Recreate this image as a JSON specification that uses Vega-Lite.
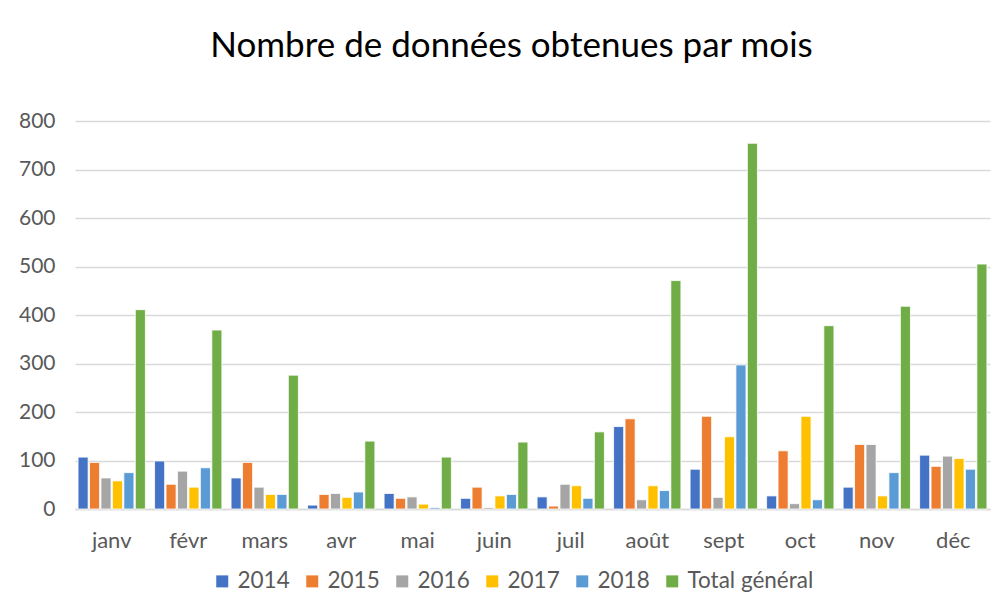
{
  "$schema": "https://vega.github.io/schema/vega-lite/v6.json",
  "width": 915,
  "height": 388,
  "autosize": {"type": "none"},
  "padding": {"left": 75, "top": 121, "right": 12, "bottom": 105},
  "background": "white",
  "title": {
    "text": "Nombre de données obtenues par mois",
    "font": "Lato",
    "fontSize": 35,
    "fontWeight": "normal",
    "color": "#000000",
    "anchor": "middle",
    "frame": "group",
    "dx": -21,
    "baseline": "alphabetic",
    "offset": 18
  },
  "data": {
    "values": [
      {"mois": "janv", "serie": "2014", "valeur": 107},
      {"mois": "janv", "serie": "2015", "valeur": 96},
      {"mois": "janv", "serie": "2016", "valeur": 64},
      {"mois": "janv", "serie": "2017", "valeur": 58},
      {"mois": "janv", "serie": "2018", "valeur": 75},
      {"mois": "janv", "serie": "Total général", "valeur": 411},
      {"mois": "févr", "serie": "2014", "valeur": 99},
      {"mois": "févr", "serie": "2015", "valeur": 51},
      {"mois": "févr", "serie": "2016", "valeur": 78},
      {"mois": "févr", "serie": "2017", "valeur": 45},
      {"mois": "févr", "serie": "2018", "valeur": 85},
      {"mois": "févr", "serie": "Total général", "valeur": 369},
      {"mois": "mars", "serie": "2014", "valeur": 64},
      {"mois": "mars", "serie": "2015", "valeur": 96},
      {"mois": "mars", "serie": "2016", "valeur": 45},
      {"mois": "mars", "serie": "2017", "valeur": 30},
      {"mois": "mars", "serie": "2018", "valeur": 30},
      {"mois": "mars", "serie": "Total général", "valeur": 276},
      {"mois": "avr", "serie": "2014", "valeur": 8},
      {"mois": "avr", "serie": "2015", "valeur": 30},
      {"mois": "avr", "serie": "2016", "valeur": 32},
      {"mois": "avr", "serie": "2017", "valeur": 24},
      {"mois": "avr", "serie": "2018", "valeur": 35},
      {"mois": "avr", "serie": "Total général", "valeur": 140},
      {"mois": "mai", "serie": "2014", "valeur": 32},
      {"mois": "mai", "serie": "2015", "valeur": 22},
      {"mois": "mai", "serie": "2016", "valeur": 25},
      {"mois": "mai", "serie": "2017", "valeur": 10},
      {"mois": "mai", "serie": "2018", "valeur": 3},
      {"mois": "mai", "serie": "Total général", "valeur": 107},
      {"mois": "juin", "serie": "2014", "valeur": 22},
      {"mois": "juin", "serie": "2015", "valeur": 45},
      {"mois": "juin", "serie": "2016", "valeur": 3},
      {"mois": "juin", "serie": "2017", "valeur": 27},
      {"mois": "juin", "serie": "2018", "valeur": 30},
      {"mois": "juin", "serie": "Total général", "valeur": 138},
      {"mois": "juil", "serie": "2014", "valeur": 25},
      {"mois": "juil", "serie": "2015", "valeur": 6},
      {"mois": "juil", "serie": "2016", "valeur": 51},
      {"mois": "juil", "serie": "2017", "valeur": 48},
      {"mois": "juil", "serie": "2018", "valeur": 22},
      {"mois": "juil", "serie": "Total général", "valeur": 159},
      {"mois": "août", "serie": "2014", "valeur": 170},
      {"mois": "août", "serie": "2015", "valeur": 186},
      {"mois": "août", "serie": "2016", "valeur": 19},
      {"mois": "août", "serie": "2017", "valeur": 48},
      {"mois": "août", "serie": "2018", "valeur": 38},
      {"mois": "août", "serie": "Total général", "valeur": 471},
      {"mois": "sept", "serie": "2014", "valeur": 82},
      {"mois": "sept", "serie": "2015", "valeur": 191},
      {"mois": "sept", "serie": "2016", "valeur": 24},
      {"mois": "sept", "serie": "2017", "valeur": 149},
      {"mois": "sept", "serie": "2018", "valeur": 297},
      {"mois": "sept", "serie": "Total général", "valeur": 754},
      {"mois": "oct", "serie": "2014", "valeur": 27},
      {"mois": "oct", "serie": "2015", "valeur": 120},
      {"mois": "oct", "serie": "2016", "valeur": 11},
      {"mois": "oct", "serie": "2017", "valeur": 191},
      {"mois": "oct", "serie": "2018", "valeur": 19},
      {"mois": "oct", "serie": "Total général", "valeur": 378},
      {"mois": "nov", "serie": "2014", "valeur": 45},
      {"mois": "nov", "serie": "2015", "valeur": 133},
      {"mois": "nov", "serie": "2016", "valeur": 133},
      {"mois": "nov", "serie": "2017", "valeur": 27},
      {"mois": "nov", "serie": "2018", "valeur": 75},
      {"mois": "nov", "serie": "Total général", "valeur": 418},
      {"mois": "déc", "serie": "2014", "valeur": 111},
      {"mois": "déc", "serie": "2015", "valeur": 88},
      {"mois": "déc", "serie": "2016", "valeur": 109},
      {"mois": "déc", "serie": "2017", "valeur": 104},
      {"mois": "déc", "serie": "2018", "valeur": 82},
      {"mois": "déc", "serie": "Total général", "valeur": 505}
    ]
  },
  "mark": {"type": "bar", "stroke": "white", "strokeWidth": 0.8},
  "encoding": {
    "x": {
      "field": "mois",
      "type": "nominal",
      "sort": ["janv", "févr", "mars", "avr", "mai", "juin", "juil", "août", "sept", "oct", "nov", "déc"],
      "scale": {"paddingInner": 0.12, "paddingOuter": 0.04},
      "axis": {
        "title": null,
        "labelAngle": 0,
        "labelFont": "Lato",
        "labelFontSize": 22,
        "labelColor": "#595959",
        "labelPadding": 21,
        "ticks": false,
        "domainColor": "#D9D9D9",
        "domainWidth": 1.5
      }
    },
    "xOffset": {
      "field": "serie",
      "type": "nominal",
      "sort": ["2014", "2015", "2016", "2017", "2018", "Total général"],
      "scale": {"paddingInner": 0.12}
    },
    "y": {
      "field": "valeur",
      "type": "quantitative",
      "scale": {"domain": [0, 800], "nice": false},
      "axis": {
        "title": null,
        "values": [0, 100, 200, 300, 400, 500, 600, 700, 800],
        "labelFont": "Lato",
        "labelFontSize": 21,
        "labelColor": "#595959",
        "labelPadding": 20,
        "ticks": false,
        "domain": false,
        "gridColor": "#D9D9D9",
        "gridWidth": 1.5
      }
    },
    "color": {
      "field": "serie",
      "type": "nominal",
      "sort": ["2014", "2015", "2016", "2017", "2018", "Total général"],
      "scale": {
        "domain": ["2014", "2015", "2016", "2017", "2018", "Total général"],
        "range": ["#4472C4", "#ED7D31", "#A5A5A5", "#FFC000", "#5B9BD5", "#70AD47"]
      },
      "legend": {
        "title": null,
        "orient": "none",
        "legendX": 136,
        "legendY": 449,
        "direction": "horizontal",
        "symbolType": "square",
        "symbolSize": 144,
        "symbolStrokeWidth": 0,
        "labelFont": "Lato",
        "labelFontSize": 22.5,
        "labelColor": "#595959",
        "columnPadding": 11,
        "labelOffset": 4
      }
    }
  },
  "config": {
    "view": {"stroke": null},
    "axis": {"grid": true},
    "axisX": {"grid": false}
  }
}
